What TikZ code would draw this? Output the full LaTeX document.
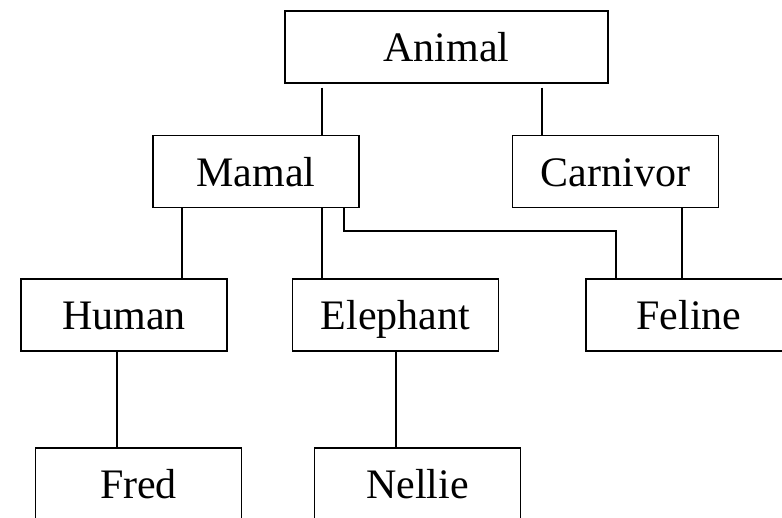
\documentclass[tikz,border=0pt]{standalone}
\usepackage{fontspec}
\setmainfont{Liberation Serif}
\begin{document}
\begin{tikzpicture}[x=1pt,y=-1pt,
  box/.style={draw, line width=1.3pt, minimum width=206pt, minimum height=72pt,
    inner sep=0pt, text height=29pt, text depth=0pt,
    font=\fontsize{42}{50}\selectfont},
  link/.style={line width=1.3pt}]
\useasboundingbox (0,0) rectangle (782,517);
\clip (0,0) rectangle (782,517);

% class boxes
\node[box, minimum width=323pt] (Animal) at (446.5,47) {Animal};
\node[box] (Mamal)    at (256,171.5)   {Mamal};
\node[box] (Carnivor) at (615.5,171.5) {Carnivor};
\node[box] (Human)    at (124,315)     {Human};
\node[box] (Elephant) at (395.5,315)   {Elephant};
\node[box] (Feline)   at (689,315)     {Feline};
\node[box] (Fred)     at (138.5,484)   {Fred};
\node[box] (Nellie)   at (417.5,484)   {Nellie};

% inheritance links
\draw[link, shorten <=4pt] (Animal.south -| 322,0) -- (Mamal.north -| 322,0);
\draw[link, shorten <=4pt] (Animal.south -| 542,0) -- (Carnivor.north -| 542,0);
\draw[link] (Mamal.south -| 182,0) -- (Human.north -| 182,0);
\draw[link] (Mamal.south -| 322,0) -- (Elephant.north -| 322,0);
\draw[link] (Mamal.south -| 344,0) -- (344,231) -| (Feline.north -| 616,0);
\draw[link] (Carnivor.south -| 682,0) -- (Feline.north -| 682,0);
\draw[link] (Human.south -| 117,0) -- (Fred.north -| 117,0);
\draw[link] (Elephant.south -| 396,0) -- (Nellie.north -| 396,0);
\end{tikzpicture}
\end{document}
